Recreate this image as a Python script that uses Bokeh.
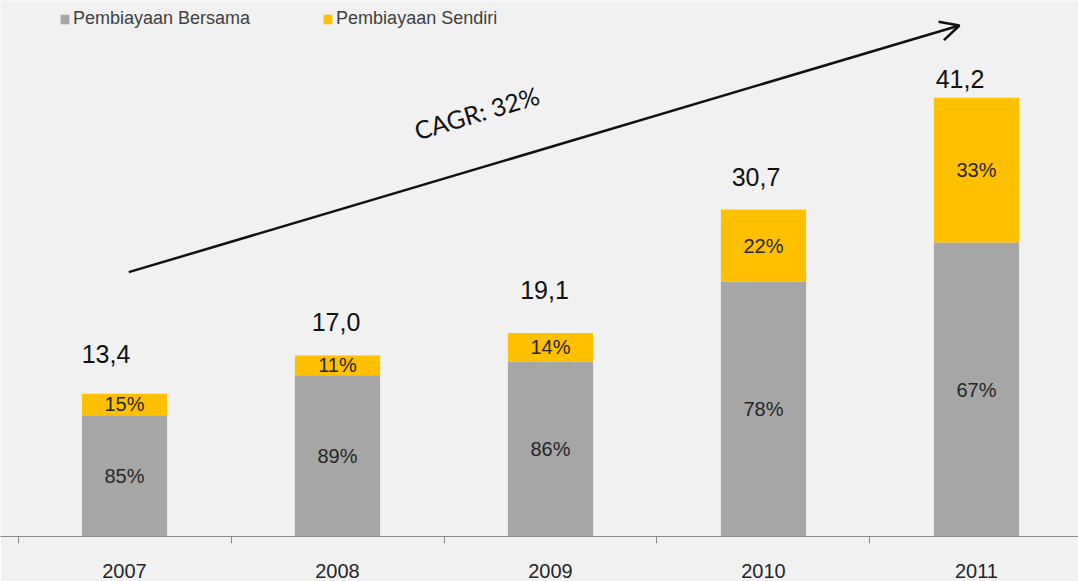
from bokeh.plotting import figure
from bokeh.models import ColumnDataSource, Range1d, FixedTicker, Arrow, OpenHead, Label
from bokeh.core.properties import value
from bokeh.embed import file_html
from bokeh.resources import INLINE

# ---- data ----
years = ["2007", "2008", "2009", "2010", "2011"]
totals = [13.4, 17.0, 19.1, 30.7, 41.2]
pct_bersama = [85, 89, 86, 78, 67]
pct_sendiri = [15, 11, 14, 22, 33]
total_labels = ["13,4", "17,0", "19,1", "30,7", "41,2"]
series_names = ["Pembiayaan Bersama", "Pembiayaan Sendiri"]
cagr_text = "CAGR: 32%"

# ---- layout tweaks (pixels) for the total labels ----
total_dx = [-18.5, -1.5, -6, -7.5, -16.5]
total_dy = [-40, -33, -43, -33, -19]

xs = list(range(len(years)))
bersama = [t * p / 100 for t, p in zip(totals, pct_bersama)]
sendiri = [t - b for t, b in zip(totals, bersama)]

src = ColumnDataSource(dict(x=xs, bersama=bersama, sendiri=sendiri))

BG = "#f1f1f1"
p = figure(width=1078, height=581,
           x_range=Range1d(-0.5822, 4.4789), y_range=Range1d(0, 50.33),
           output_backend="svg", toolbar_location=None, y_axis_location=None,
           min_border_left=0, min_border_right=0, min_border_top=0, min_border_bottom=45,
           background_fill_color=BG, border_fill_color=BG)
p.outline_line_color = None
p.grid.visible = False

p.vbar_stack(["bersama", "sendiri"], x="x", width=0.4, source=src,
             fill_color=["#a6a6a6", "#ffc000"], line_color=None,
             legend_label=series_names)

# inner percentage labels
in_src = ColumnDataSource(dict(
    x=xs + xs,
    y=[b / 2 for b in bersama] + [b + s / 2 for b, s in zip(bersama, sendiri)],
    t=[f"{v}%" for v in pct_bersama] + [f"{v}%" for v in pct_sendiri],
))
p.text(x="x", y="y", text="t", source=in_src, text_align="center", text_baseline="middle",
       text_font=value("Liberation Sans"), text_font_size="20px", text_color="#262626")

# total labels
tot_src = ColumnDataSource(dict(x=xs, y=totals, t=total_labels, dx=total_dx, dy=total_dy))
p.text(x="x", y="y", text="t", x_offset="dx", y_offset="dy", source=tot_src,
       text_align="center", text_baseline="middle",
       text_font=value("Liberation Sans"), text_font_size="25px", text_color="#111111")

# growth arrow and CAGR label
p.add_layout(Arrow(end=OpenHead(size=19, line_width=2.5, line_color="#111111"),
                   x_start=0.02, y_start=24.82, x_end=3.92, y_end=47.98,
                   line_width=2.5, line_color="#111111"))
p.add_layout(Label(x=1.653, y=39.81, text=cagr_text, angle=0.29,
                   text_align="center", text_baseline="middle",
                   text_font="Lato", text_font_size="25px", text_color="#111111"))

# x axis
ax = p.xaxis[0]
ax.ticker = FixedTicker(ticks=xs, minor_ticks=[i - 0.5 for i in range(len(years) + 1)])
ax.major_label_overrides = {i: y for i, y in zip(xs, years)}
ax.major_tick_out = 0
ax.major_tick_in = 0
ax.minor_tick_out = 7
ax.minor_tick_in = 0
ax.axis_line_color = "#8c8c8c"
ax.minor_tick_line_color = "#8c8c8c"
ax.major_label_text_font = "Liberation Sans"
ax.major_label_text_font_size = "20px"
ax.major_label_text_color = "#262626"
ax.major_label_standoff = 20

# legend
lg = p.legend[0]
lg.orientation = "horizontal"
lg.location = (59, 507)
lg.label_text_font = "Liberation Sans"
lg.label_text_font_size = "18px"
lg.label_text_color = "#404040"
lg.glyph_width = 11
lg.glyph_height = 12
lg.label_standoff = 3
lg.spacing = 72
lg.padding = 0
lg.margin = 0
lg.label_height = 20
lg.border_line_color = None
lg.background_fill_alpha = 0

open("out.html", "w").write(file_html(p, INLINE))
